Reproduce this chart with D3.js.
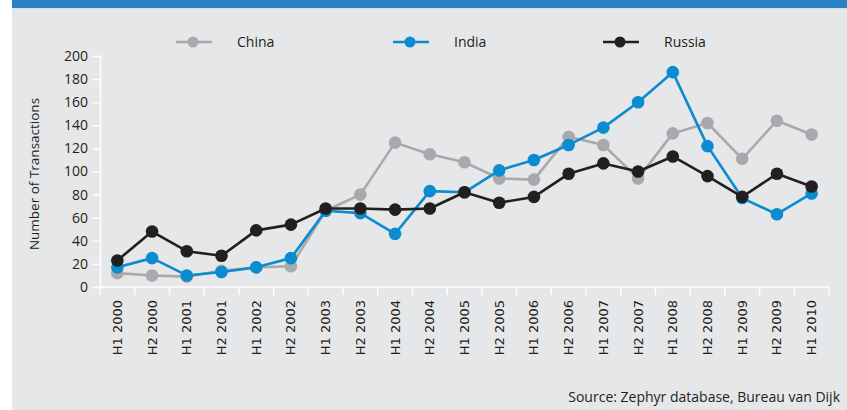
<!DOCTYPE html>
<html>
<head>
<meta charset="utf-8">
<script src="https://cdn.jsdelivr.net/npm/d3@7"></script>
<style>
  body { margin: 0; background: #fff; }
  svg { display: block; }
</style>
</head>
<body>
<div id="chart"></div>
<script>
const periods = ['H1 2000','H2 2000','H1 2001','H2 2001','H1 2002','H2 2002','H1 2003','H2 2003',
  'H1 2004','H2 2004','H1 2005','H2 2005','H1 2006','H2 2006','H1 2007','H2 2007',
  'H1 2008','H2 2008','H1 2009','H2 2009','H1 2010'];
const china  = [12, 10, 9, 14, 17, 18, 66, 80, 125, 115, 108, 94, 93, 130, 123, 94, 133, 142, 111, 144, 132];
const india  = [17, 25, 10, 13, 17, 25, 66, 64, 46, 83, 82, 101, 110, 123, 138, 160, 186, 122, 77, 63, 81];
const russia = [23, 48, 31, 27, 49, 54, 68, 68, 67, 68, 82, 73, 78, 98, 107, 100, 113, 96, 78, 98, 87];
const seriesNames = ['China', 'India', 'Russia'];
const yTicks = [0, 20, 40, 60, 80, 100, 120, 140, 160, 180, 200];

const colors = { China: '#a7a9ac', India: '#0b8bd0', Russia: '#231f20' };
const series = [
  { name: 'China', values: china },
  { name: 'India', values: india },
  { name: 'Russia', values: russia }
];

const width = 847, height = 410;
const margin = { top: 56, right: 18, bottom: 123, left: 100 };

const svg = d3.select('#chart').append('svg')
    .attr('width', width)
    .attr('height', height);

// background panel and top banner
svg.append('rect').attr('x', 12).attr('y', 0).attr('width', width - 12).attr('height', height).attr('fill', '#e6e7e8');
svg.append('rect').attr('x', 12).attr('y', 0).attr('width', width - 12).attr('height', 8).attr('fill', '#2a82c6');
svg.append('line').attr('x1', 12).attr('x2', width).attr('y1', 8.5).attr('y2', 8.5).attr('stroke', '#cfe0ee');

const x = d3.scaleBand()
    .domain(periods)
    .range([margin.left, width - margin.right]);

const y = d3.scaleLinear()
    .domain([0, 200])
    .range([287, margin.top]);

// y axis
const yAxis = svg.append('g')
    .attr('transform', `translate(${margin.left},0)`)
    .call(d3.axisLeft(y).tickValues(yTicks).tickSize(7).tickPadding(5));
yAxis.select('.domain').attr('stroke', '#fff').attr('stroke-width', 1.5);
yAxis.selectAll('.tick line').attr('stroke', '#fff').attr('stroke-width', 1.5);
yAxis.selectAll('.tick text')
    .attr('fill', '#231f20')
    .style('font', '14px "Open Sans", sans-serif');

// x axis with ticks at band boundaries
const xg = svg.append('g').attr('transform', `translate(0,${y(0)})`);
xg.append('line')
    .attr('x1', margin.left).attr('x2', width - margin.right)
    .attr('stroke', '#fff').attr('stroke-width', 1.5);
xg.selectAll('.bt')
    .data(periods.concat(['end']))
    .join('line')
    .attr('class', 'bt')
    .attr('x1', (d, i) => margin.left + i * x.bandwidth())
    .attr('x2', (d, i) => margin.left + i * x.bandwidth())
    .attr('y1', 0).attr('y2', 8)
    .attr('stroke', '#fff').attr('stroke-width', 1.5);
xg.selectAll('.lbl')
    .data(periods)
    .join('text')
    .attr('class', 'lbl')
    .attr('transform', d => `translate(${x(d) + x.bandwidth() / 2 + 4.5},13) rotate(-90)`)
    .attr('text-anchor', 'end')
    .attr('fill', '#231f20')
    .style('font', '13px "DejaVu Sans", sans-serif')
    .text(d => d);

// y axis title
svg.append('text')
    .attr('transform', `translate(39,174) rotate(-90)`)
    .attr('text-anchor', 'middle')
    .attr('fill', '#231f20')
    .style('font', '13.5px "Open Sans", sans-serif')
    .text('Number of Transactions');

// lines and markers
const line = d3.line()
    .x((d, i) => x(periods[i]) + x.bandwidth() / 2)
    .y(d => y(d));

series.forEach(s => {
  const g = svg.append('g');
  g.append('path')
      .datum(s.values)
      .attr('d', line)
      .attr('fill', 'none')
      .attr('stroke', colors[s.name])
      .attr('stroke-width', 2.6)
      .attr('stroke-linejoin', 'round');
  g.selectAll('circle')
      .data(s.values)
      .join('circle')
      .attr('cx', (d, i) => x(periods[i]) + x.bandwidth() / 2)
      .attr('cy', d => y(d))
      .attr('r', 6.3)
      .attr('fill', colors[s.name]);
});

// legend
const legendX = [176, 393, 603];
const legend = svg.append('g');
seriesNames.forEach((name, i) => {
  const lg = legend.append('g').attr('transform', `translate(${legendX[i]},42)`);
  lg.append('line').attr('x1', 0).attr('x2', 36).attr('stroke', colors[name]).attr('stroke-width', 2.6);
  lg.append('circle').attr('cx', 17).attr('r', 5.5).attr('fill', colors[name]);
  lg.append('text')
      .attr('x', 61).attr('y', 5)
      .attr('fill', '#231f20')
      .style('font', '14px "Open Sans", sans-serif')
      .text(name);
});

// source
svg.append('text')
    .attr('x', 840).attr('y', 402)
    .attr('text-anchor', 'end')
    .attr('fill', '#231f20')
    .style('font', '14px "Open Sans", sans-serif')
    .text('Source: Zephyr database, Bureau van Dijk');
</script>
</body>
</html>
